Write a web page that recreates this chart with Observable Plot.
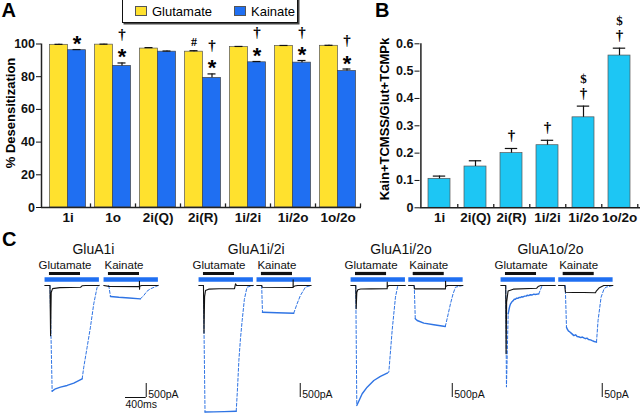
<!DOCTYPE html>
<html><head><meta charset="utf-8">
<script src="https://cdn.jsdelivr.net/npm/d3@7"></script>
<script src="https://cdn.jsdelivr.net/npm/@observablehq/plot@0.6"></script>
<style>
body{margin:0;background:#fff;}
#fig{position:relative;width:640px;height:414px;overflow:hidden;font-family:"Liberation Sans",Arial,sans-serif;background:#fff;}
#fig > *{position:absolute;}
.plab{font-weight:bold;font-size:20px;line-height:1;}
.ylab{font-weight:bold;font-size:13px;line-height:1;white-space:nowrap;transform:translate(-50%,-50%) rotate(-90deg);}
.legend{background:#fff;border:1px solid #111;box-shadow:1.5px 1.5px 0 #444;display:flex;align-items:center;box-sizing:border-box;font-size:13px;}
.sw{display:inline-block;width:12px;height:10px;border:1px solid #555;box-sizing:border-box;}
</style></head><body><div id="fig"></div>
<script>
// ---------- Panel A data ----------
const categoriesA = ["1i","1o","2i(Q)","2i(R)","1i/2i","1i/2o","1o/2o"];
const seriesA = ["Glutamate","Kainate"];
const glutamateMean = [99.5, 99.6, 97.2, 95.3, 98.1, 98.8, 98.9];
const glutamateSem  = [0.3, 0.3, 0.6, 0.6, 0.4, 0.3, 0.3];
const kainateMean   = [96.2, 86.6, 95.3, 79.3, 88.8, 88.6, 83.5];
const kainateSem    = [0.4, 1.8, 0.4, 2.4, 0.5, 1.3, 1.2];
const yTicksA = [0, 20, 40, 60, 80, 100];
const yLabelA = "% Desensitization";
const annotationsA = [
  {category:"1i", series:"Kainate", symbol:"*"},
  {category:"1o", series:"Kainate", symbol:"*"}, {category:"1o", series:"Kainate", symbol:"†"},
  {category:"2i(R)", series:"Glutamate", symbol:"#"},
  {category:"2i(R)", series:"Kainate", symbol:"*"}, {category:"2i(R)", series:"Kainate", symbol:"†"},
  {category:"1i/2i", series:"Kainate", symbol:"*"}, {category:"1i/2i", series:"Kainate", symbol:"†"},
  {category:"1i/2o", series:"Kainate", symbol:"*"}, {category:"1i/2o", series:"Kainate", symbol:"†"},
  {category:"1o/2o", series:"Kainate", symbol:"*"}, {category:"1o/2o", series:"Kainate", symbol:"†"}
];

// ---------- Panel B data ----------
const categoriesB = ["1i","2i(Q)","2i(R)","1i/2i","1i/2o","1o/2o"];
const ratioMean = [0.106, 0.151, 0.200, 0.229, 0.331, 0.557];
const ratioSem  = [0.010, 0.021, 0.017, 0.018, 0.041, 0.027];
const yTicksB = [0, 0.1, 0.2, 0.3, 0.4, 0.5, 0.6];
const yLabelB = "Kain+TCMSS/Glut+TCMPk";
const annotationsB = [
  {category:"2i(R)", symbol:"†"}, {category:"1i/2i", symbol:"†"},
  {category:"1i/2o", symbol:"†"}, {category:"1i/2o", symbol:"$"},
  {category:"1o/2o", symbol:"†"}, {category:"1o/2o", symbol:"$"}
];

// ---------- Panel C data: [time ms from application onset, current pA] ----------
const groupNames = ["GluA1i","GluA1i/2i","GluA1i/2o","GluA1o/2o"];
const scaleBarPA = [500, 500, 500, 50];
const applicationMs = 600;
const timeBarMs = 400;

const g1_glu_black  = [[-90,0],[10,0],[22,-1790],[34,-250],[60,-110],[200,-75],[600,-65],[630,-10],[700,0],[960,0]];
const g1_glu_on     = [[10,0],[52,-3774]];
const g1_glu_steady = [[52,-3774],[116,-3689],[213,-3630],[342,-3570],[470,-3488],[632,-3333]];
const g1_glu_off    = [[632,-3333],[663,-2916],[728,-2203],[792,-1489],[856,-654],[921,-60],[960,0]];
const g1_kai_black  = [[-90,0],[10,-30],[598,-40],[599,150],[601,-130],[604,-30],[640,0],[960,0]];
const g1_kai_on     = [[6,0],[39,-393]];
const g1_kai_steady = [[39,-393],[200,-420],[400,-445],[618,-476]];
const g1_kai_off    = [[618,-476],[682,-357],[746,-202],[810,-119],[887,-60],[960,0]];

const g2_glu_black  = [[-90,0],[0,0],[10,-1700],[22,-400],[40,-180],[100,-130],[300,-115],[600,-110],[610,-20],[620,60],[640,0],[960,0]];
const g2_glu_on     = [[0,0],[30,-4520]];
const g2_glu_steady = [[30,-4520],[200,-4515],[400,-4505],[633,-4490]];
const g2_glu_off    = [[633,-4490],[660,-3600],[684,-2680],[715,-1900],[748,-1250],[790,-500],[841,-60],[960,0]];
const g2_kai_black  = [[-90,0],[5,0],[15,-60],[600,-70],[612,-70],[613,200],[615,-60],[640,-20],[700,0],[960,0]];
const g2_kai_on     = [[5,0],[20,-953]];
const g2_kai_steady = [[20,-953],[300,-975],[624,-990]];
const g2_kai_off    = [[624,-990],[689,-654],[753,-357],[850,-60],[960,0]];

const g3_glu_black  = [[-90,0],[5,0],[13,-830],[25,-250],[45,-150],[100,-125],[300,-120],[612,-115],[613,120],[616,-60],[640,0],[960,0]];
const g3_glu_on     = [[5,0],[25,-4285]];
const g3_glu_steady = [[25,-4285],[129,-3866],[225,-3630],[354,-3392],[482,-3249],[612,-3130]];
const g3_glu_off    = [[612,-3130],[644,-3095],[708,-1607],[772,-417],[818,0],[960,0]];
const g3_kai_black  = [[-90,0],[15,0],[25,-119],[600,-119],[624,-119],[625,150],[628,-40],[660,0],[960,0]];
const g3_kai_on     = [[20,0],[40,-1190]];
const g3_kai_steady = [[40,-1190],[77,-1250],[205,-1345],[398,-1404],[620,-1464]];
const g3_kai_off    = [[620,-1464],[660,-1150],[720,-654],[770,-300],[817,-60],[960,0]];

const g4_glu_black  = [[-90,0],[5,0],[12,-244],[22,-60],[50,-20],[150,-13],[600,-10],[630,-4],[680,0],[960,0]];
const g4_glu_on     = [[5,0],[19,-363],[52,-101]];
const g4_glu_steady = [[52,-101],[70,-84],[85,-72],[97,-66],[115,-61],[130,-57],[150,-54],[170,-49],[193,-49],[215,-45],[240,-46],[260,-43],[290,-43],[310,-40],[340,-41],[370,-38],[400,-38],[418,-35],[450,-36],[480,-33],[510,-34],[547,-31],[575,-32],[643,-30]];
const g4_glu_off    = [[643,-30],[676,-15],[708,0],[960,0]];
const g4_kai_black  = [[-90,0],[30,0],[44,-24],[200,-25],[400,-25],[624,-26],[640,-20],[700,-8],[784,0],[960,0]];
const g4_kai_on     = [[40,0],[64,-149]];
const g4_kai_steady = [[64,-149],[77,-155],[100,-162],[130,-166],[160,-171],[206,-179],[240,-176],[270,-182],[300,-183],[340,-186],[370,-184],[399,-187],[430,-190],[460,-188],[490,-193],[528,-194],[560,-197],[600,-200],[644,-202]];
const g4_kai_off    = [[644,-202],[674,-125],[732,-42],[790,-12],[829,-6],[960,0]];

// ---------- styles / layout ----------
const colorA = {Glutamate:"#FFE12E", Kainate:"#1F6FF2"};
const colorB = "#1DC6F4";
const traceBlue = "#2F74E4";
const sans = "Liberation Sans, Arial, Helvetica, sans-serif";
const serif = "Liberation Serif, Times New Roman, serif";

const fig = document.getElementById("fig");

function italicize(svg, label) {
  d3.select(svg).selectAll(`g[aria-label="${label}"] text`).each(function () {
    const s = this.textContent;
    const sel = d3.select(this);
    sel.text("");
    for (const m of s.match(/[io]+|[^io]+/g)) {
      const t = sel.append("tspan").text(m);
      if (/[io]/.test(m[0])) t.attr("font-style", "italic");
    }
  });
}

// ---------- Panel A ----------
const rowsA = categoriesA.flatMap((c, i) => [
  {category:c, series:"Glutamate", mean:glutamateMean[i], sem:glutamateSem[i]},
  {category:c, series:"Kainate", mean:kainateMean[i], sem:kainateSem[i]}
]);
const glu = rowsA.filter(d => d.series === "Glutamate");
const kai = rowsA.filter(d => d.series === "Kainate");
const topA = a => { const r = rowsA.find(d => d.category === a.category && d.series === a.series); return r.mean + r.sem; };

const plotA = Plot.plot({
  width: 365, height: 225, marginLeft: 41, marginRight: 4, marginTop: 43.5, marginBottom: 18,
  style: {background:"transparent", fontFamily:sans, fontSize:"12.5px", fontWeight:"bold", color:"#111", overflow:"visible"},
  x: {domain: categoriesA, range: [45, 360], padding: 0, axis: null},
  y: {domain: [0, 100], ticks: yTicksA, tickSize: 5, tickPadding: 1.5, label: null, tickFormat: d => String(d)},
  marks: [
    Plot.barY(glu, {x:"category", y:"mean", fill: colorA.Glutamate, stroke:"#555", strokeWidth:0.7, insetLeft:4.5, insetRight:22.5}),
    Plot.barY(kai, {x:"category", y:"mean", fill: colorA.Kainate, stroke:"#444", strokeWidth:0.7, insetLeft:22.5, insetRight:4.5}),
    Plot.ruleX(glu, {x:"category", y1:"mean", y2: d => d.mean + d.sem, dx:-9, stroke:"#111", strokeWidth:1.2}),
    Plot.tickY(glu, {x:"category", y: d => d.mean + d.sem, insetLeft:9.5, insetRight:27.5, stroke:"#111", strokeWidth:1.2}),
    Plot.ruleX(kai, {x:"category", y1:"mean", y2: d => d.mean + d.sem, dx:9, stroke:"#111", strokeWidth:1.2}),
    Plot.tickY(kai, {x:"category", y: d => d.mean + d.sem, insetLeft:27.5, insetRight:9.5, stroke:"#111", strokeWidth:1.2}),
    Plot.ruleY([0], {stroke:"#222", strokeWidth:1.5}),
    Plot.ruleX([categoriesA[0]], {x: d => d, y1:0, y2:100, dx:-26.5, stroke:"#222", strokeWidth:1.5}),
    Plot.ruleX(categoriesA, {x: d => d, y1:0, y2:2.2, dx:22.5, stroke:"#222", strokeWidth:1.3}),
    Plot.text(categoriesA, {x: d => d, y:0, dy:14, text: d => d, lineAnchor:"bottom", fontSize:13.5, ariaLabel:"xlab"}),
    Plot.text(annotationsA.filter(a => a.symbol === "*"), {x:"category", y: topA, text:"symbol", dx:9, dy:1.5, lineAnchor:"bottom", fontSize:22, fontFamily:sans, fill:"#000"}),
    Plot.text(annotationsA.filter(a => a.symbol === "†"), {x:"category", y: topA, text:"symbol", dx:9, dy:-24, lineAnchor:"bottom", fontSize:15, fontFamily:serif, fill:"#000"}),
    Plot.text(annotationsA.filter(a => a.symbol === "#"), {x:"category", y: topA, text:"symbol", dx:-9, dy:-5, lineAnchor:"bottom", fontSize:12, fontFamily:serif, fill:"#000"})
  ]
});
plotA.style.left = "0px"; plotA.style.top = "0px";
italicize(plotA, "xlab");

// ---------- Panel B ----------
const rowsB = categoriesB.map((c, i) => ({category:c, mean:ratioMean[i], sem:ratioSem[i]}));
const topB = a => { const r = rowsB.find(d => d.category === a.category); return r.mean + r.sem; };
const plotB = Plot.plot({
  width: 310, height: 225, marginLeft: 89.5, marginRight: 0, marginTop: 43.3, marginBottom: 17.7,
  style: {background:"transparent", fontFamily:sans, fontSize:"12.5px", fontWeight:"bold", color:"#111", overflow:"visible"},
  x: {domain: categoriesB, range: [89.5, 309.5], paddingInner: 0.38, paddingOuter: 0.2, axis: null},
  y: {domain: [0, 0.6], ticks: yTicksB, tickSize: 5, tickPadding: 1.5, label: null, tickFormat: d => d === 0 ? "0" : d3.format(".1f")(d)},
  marks: [
    Plot.barY(rowsB, {x:"category", y:"mean", fill: colorB, stroke:"#555", strokeWidth:0.7}),
    Plot.ruleX(rowsB, {x:"category", y1:"mean", y2: d => d.mean + d.sem, stroke:"#111", strokeWidth:1.2}),
    Plot.tickY(rowsB, {x:"category", y: d => d.mean + d.sem, insetLeft:4.8, insetRight:4.8, stroke:"#111", strokeWidth:1.2}),
    Plot.ruleY([0], {stroke:"#222", strokeWidth:1.5}),
    Plot.ruleX([categoriesB[0]], {x: d => d, y1:0, y2:0.6, dx:-18.6, stroke:"#222", strokeWidth:1.5}),
    Plot.ruleX(categoriesB, {x: d => d, y1:0, y2:0.012, dx:18.27, stroke:"#222", strokeWidth:1.3}),
    Plot.text(categoriesB, {x: d => d, y:0, dy:14, text: d => d, lineAnchor:"bottom", fontSize:13.5, ariaLabel:"xlab"}),
    Plot.text(annotationsB.filter(a => a.symbol === "†"), {x:"category", y: topB, text:"symbol", dy:-8, lineAnchor:"bottom", fontSize:15, fontFamily:serif, fill:"#000"}),
    Plot.text(annotationsB.filter(a => a.symbol === "$"), {x:"category", y: topB, text:"symbol", dy:-23.5, lineAnchor:"bottom", fontSize:13, fontFamily:serif, fill:"#000"})
  ]
});
plotB.style.left = "330px"; plotB.style.top = "0px";
italicize(plotB, "xlab");

// ---------- Panel C ----------
const msPerPx = timeBarMs / 20.7;
const glutStartMs = [946, 3922, 6860, 9758];
const kainDelayMs = [1140, 1120, 1115, 1115];
const titleOffsetMs = [850, 1020, 880, 870];
const scaleBarOffsetMs = 1870;
const sweepSpan = [-85, 965];

const sweepData = [
  [0,"Glutamate",g1_glu_black,g1_glu_on,g1_glu_steady,g1_glu_off],
  [0,"Kainate",g1_kai_black,g1_kai_on,g1_kai_steady,g1_kai_off],
  [1,"Glutamate",g2_glu_black,g2_glu_on,g2_glu_steady,g2_glu_off],
  [1,"Kainate",g2_kai_black,g2_kai_on,g2_kai_steady,g2_kai_off],
  [2,"Glutamate",g3_glu_black,g3_glu_on,g3_glu_steady,g3_glu_off],
  [2,"Kainate",g3_kai_black,g3_kai_on,g3_kai_steady,g3_kai_off],
  [3,"Glutamate",g4_glu_black,g4_glu_on,g4_glu_steady,g4_glu_off],
  [3,"Kainate",g4_kai_black,g4_kai_on,g4_kai_steady,g4_kai_off]
];
const sweeps = sweepData.map(([g, agent]) => ({g, agent, start: glutStartMs[g] + (agent === "Kainate" ? kainDelayMs[g] : 0)}));
const traceRows = [];
sweepData.forEach(([g, agent, black, on, steady, off], i) => {
  const start = sweeps[i].start;
  [["black", black], ["fast", on], ["steady", steady], ["fast", off]].forEach(([kind, pts], j) => {
    pts.forEach(([t, I]) => traceRows.push({seg: i * 10 + j, kind, x: start + t, y: I / scaleBarPA[g]}));
  });
});
const groupsIdx = groupNames.map((_, g) => g);
const pxPerUnit = 14, baselineTop = 60, hC = 189;

const plotC = Plot.plot({
  width: 640, height: hC, margin: 0,
  style: {background:"transparent", fontFamily:sans, fontSize:"12px", color:"#111", overflow:"visible"},
  x: {domain: [0, 640 * msPerPx], range: [0, 640], axis: null},
  y: {domain: [-(hC - baselineTop) / pxPerUnit, baselineTop / pxPerUnit], range: [hC, 0], axis: null},
  marks: [
    Plot.ruleY(sweeps, {x1: d => d.start + sweepSpan[0], x2: d => d.start + sweepSpan[1], y: 0, dy: -6, stroke: colorA.Kainate, strokeWidth: 4.5}),
    Plot.ruleY(sweeps, {x1: d => d.start, x2: d => d.start + applicationMs, y: 0, dy: -12, stroke: "#111", strokeWidth: 3.2}),
    Plot.text(sweeps, {x: d => d.start + applicationMs / 2, y: 0, dy: -17, text: "agent", lineAnchor: "bottom", fontSize: 11.5}),
    Plot.text(groupsIdx, {x: g => glutStartMs[g] + titleOffsetMs[g], y: 0, dy: -32, text: g => groupNames[g], lineAnchor: "bottom", fontSize: 14, ariaLabel: "ctitle"}),
    Plot.line(traceRows.filter(d => d.kind === "fast"), {x: "x", y: "y", z: "seg", stroke: traceBlue, strokeWidth: 1, strokeDasharray: "3,2"}),
    Plot.line(traceRows.filter(d => d.kind === "steady"), {x: "x", y: "y", z: "seg", stroke: traceBlue, strokeWidth: 1.4}),
    Plot.line(traceRows.filter(d => d.kind === "black"), {x: "x", y: "y", z: "seg", stroke: "#111", strokeWidth: 1.1}),
    Plot.ruleX(groupsIdx, {x: g => glutStartMs[g] + scaleBarOffsetMs, y1: -8, y2: -7, stroke: "#111", strokeWidth: 1}),
    Plot.ruleY([0], {x1: glutStartMs[0] + scaleBarOffsetMs - timeBarMs, x2: glutStartMs[0] + scaleBarOffsetMs, y: -8, stroke: "#111", strokeWidth: 1}),
    Plot.text(groupsIdx, {x: g => glutStartMs[g] + scaleBarOffsetMs, y: -8, dx: 2, text: g => `${scaleBarPA[g]}pA`, textAnchor: "start", lineAnchor: "bottom", fontSize: 10.5}),
    Plot.text([`${timeBarMs}ms`], {x: glutStartMs[0] + scaleBarOffsetMs - timeBarMs, y: -8, dy: 10.8, text: d => d, textAnchor: "start", lineAnchor: "bottom", fontSize: 10.5})
  ]
});
plotC.style.left = "0px"; plotC.style.top = "225px";
italicize(plotC, "ctitle");

fig.append(plotB, plotA, plotC);

// rotated y-axis titles
[[yLabelA, 9.5, 112.5], [yLabelB, 384, 119]].forEach(([t, cx, cy]) => {
  const d = document.createElement("div");
  d.className = "ylab"; d.textContent = t;
  d.style.left = cx + "px"; d.style.top = cy + "px";
  fig.append(d);
});

// legend
const legend = document.createElement("div");
legend.className = "legend";
Object.assign(legend.style, {left:"122px", top:"-2px", width:"176px", height:"24.5px", paddingLeft:"12px", paddingTop:"2px"});
seriesA.forEach((s, i) => {
  const sw = document.createElement("span");
  sw.className = "sw"; sw.style.background = colorA[s];
  if (i > 0) sw.style.marginLeft = "22px";
  const tx = document.createElement("span");
  tx.textContent = s; tx.style.marginLeft = "5px";
  legend.append(sw, tx);
});
fig.append(legend);

// panel letters
[["A", 1.5, 0], ["B", 375, 0], ["C", 2, 229]].forEach(([t, l, tp]) => {
  const d = document.createElement("div");
  d.className = "plab"; d.textContent = t;
  d.style.left = l + "px"; d.style.top = tp + "px";
  fig.append(d);
});
</script></body></html>
